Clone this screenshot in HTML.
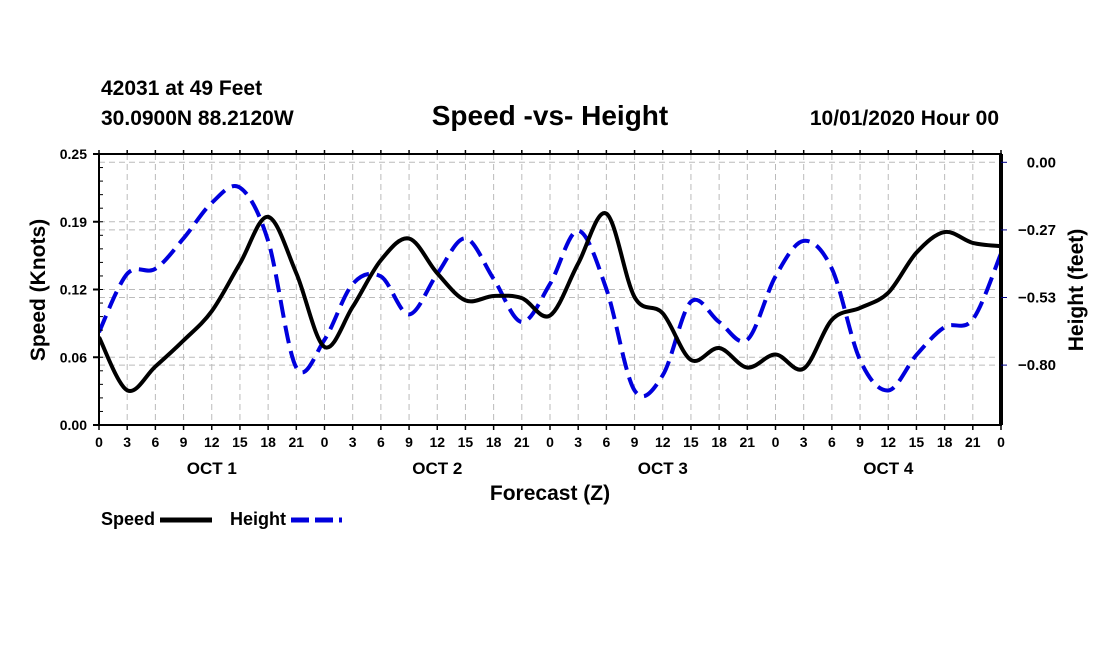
<!DOCTYPE html>
<html><head><meta charset="utf-8">
<style>
html,body{margin:0;padding:0;background:#fff;}
svg{display:block;font-family:"Liberation Sans",Arial,sans-serif;font-weight:bold;}
</style></head>
<body>
<svg id="chart" width="1100" height="650" viewBox="0 0 1100 650" xmlns="http://www.w3.org/2000/svg">
<defs><clipPath id="plotclip"><rect x="99" y="154" width="902" height="271"/></clipPath></defs>
<text x="101" y="95" font-size="21">42031 at 49 Feet</text>
<text x="101" y="125" font-size="21">30.0900N 88.2120W</text>
<text x="550" y="125" font-size="28" text-anchor="middle">Speed -vs- Height</text>
<text x="999" y="125" font-size="21" text-anchor="end">10/01/2020 Hour 00</text>
<g id="grid"></g>
<g id="series" clip-path="url(#plotclip)"></g>
<g id="axes"></g>
<text transform="translate(45,290) rotate(-90)" font-size="21" text-anchor="middle">Speed (Knots)</text>
<text transform="translate(1083,290) rotate(-90)" font-size="21" text-anchor="middle">Height (feet)</text>
<text x="550" y="500" font-size="21" text-anchor="middle">Forecast (Z)</text>
<g>
<text x="101" y="525" font-size="18">Speed</text>
<line x1="160" y1="520" x2="212" y2="520" stroke="#000" stroke-width="5"/>
<text x="230" y="525" font-size="18">Height</text>
<line x1="291" y1="520" x2="342" y2="520" stroke="#0000dd" stroke-width="5" stroke-dasharray="18,6"/>
</g>
</svg>
<script>
const hours = [0,3,6,9,12,15,18,21,24,27,30,33,36,39,42,45,48,51,54,57,60,63,66,69,72,75,78,81,84,87,90,93,96];
const speedValues = [0.081,0.032,0.054,0.078,0.105,0.149,0.192,0.140,0.072,0.109,0.152,0.172,0.140,0.115,0.119,0.117,0.101,0.149,0.195,0.118,0.103,0.060,0.071,0.053,0.065,0.052,0.097,0.108,0.122,0.159,0.178,0.168,0.165];
const heightValues = [-0.67,-0.44,-0.42,-0.30,-0.16,-0.10,-0.31,-0.81,-0.70,-0.48,-0.45,-0.60,-0.44,-0.30,-0.46,-0.63,-0.48,-0.27,-0.50,-0.90,-0.84,-0.55,-0.63,-0.70,-0.45,-0.31,-0.42,-0.78,-0.90,-0.76,-0.65,-0.62,-0.36];
const leftTicks = [0,0.0625,0.125,0.1875,0.25];
const leftTickLabels = ["0.00","0.06","0.12","0.19","0.25"];
const rightTicks = [0,-0.2667,-0.5333,-0.8];
const rightTickLabels = ["0.00","\u22120.27","\u22120.53","\u22120.80"];
const xTickLabels = ["0","3","6","9","12","15","18","21"];
const dayLabels = ["OCT 1","OCT 2","OCT 3","OCT 4"];

const L=99,R=1001,T=154,B=425;
const xs=h=>L+(h/96)*(R-L);
const yL=v=>B-(v/0.25)*(B-T);
const yR=v=>162.3-v*253.5;
const NS="http://www.w3.org/2000/svg";
function mk(tag,attrs,parent){const e=document.createElementNS(NS,tag);for(const k in attrs)e.setAttribute(k,attrs[k]);parent.appendChild(e);return e;}
const grid=document.getElementById('grid'),axes=document.getElementById('axes'),series=document.getElementById('series');
for(let h=3;h<96;h+=3){const g=mk('line',{x1:xs(h),x2:xs(h),y1:T,y2:B,stroke:'#bbb','stroke-width':1,'stroke-dasharray':'6,4'},grid);

}
leftTicks.slice(1,4).forEach(v=>{const g=mk('line',{x1:L,x2:R,y1:yL(v),y2:yL(v),stroke:'#bbb','stroke-width':1,'stroke-dasharray':'6,4'},grid);

});
rightTicks.forEach(v=>{const g=mk('line',{x1:L,x2:R,y1:yR(v),y2:yR(v),stroke:'#bbb','stroke-width':1,'stroke-dasharray':'6,4'},grid);

});
function path(vals,ymap){const p=hours.map((h,i)=>[xs(h),ymap(vals[i])]);let d='M'+p[0][0]+','+p[0][1];
for(let i=0;i<p.length-1;i++){const p0=p[Math.max(i-1,0)],p1=p[i],p2=p[i+1],p3=p[Math.min(i+2,p.length-1)];
const c1=[p1[0]+(p2[0]-p0[0])/6,p1[1]+(p2[1]-p0[1])/6],c2=[p2[0]-(p3[0]-p1[0])/6,p2[1]-(p3[1]-p1[1])/6];
d+=` C${c1[0]},${c1[1]} ${c2[0]},${c2[1]} ${p2[0]},${p2[1]}`;}return d;}
const hp=mk('path',{d:path(heightValues,yR),fill:'none',stroke:'#0000dd','stroke-width':4,'stroke-dasharray':'18,8'},series);


const sp=mk('path',{d:path(speedValues,yL),fill:'none',stroke:'#000','stroke-width':4},series);


mk('rect',{x:L,y:T,width:R-L,height:B-T,fill:'none',stroke:'#000','stroke-width':2},axes);
mk('line',{x1:R,x2:R,y1:T,y2:B,stroke:'#000','stroke-width':4},axes);
leftTicks.forEach((v,i)=>{mk('line',{x1:L-6,x2:L,y1:yL(v),y2:yL(v),stroke:'#000','stroke-width':2},axes);
const t=mk('text',{x:L-12,y:yL(v)+5,'font-size':14,'text-anchor':'end'},axes);t.textContent=leftTickLabels[i];

});
for(let v=0;v<0.25;v+=0.0125){mk('line',{x1:L,x2:L+4,y1:yL(v),y2:yL(v),stroke:'#000','stroke-width':1},axes);}
rightTicks.forEach((v,i)=>{mk('line',{x1:R,x2:R+6,y1:yR(v),y2:yR(v),stroke:'#000088','stroke-width':1},axes);
const t=mk('text',{x:R+55,y:yR(v)+5,'font-size':15,'text-anchor':'end'},axes);t.textContent=rightTickLabels[i];

});
for(let h=0;h<=96;h+=3){mk('line',{x1:xs(h),x2:xs(h),y1:B,y2:B+5,stroke:'#000','stroke-width':1.5},axes);
mk('line',{x1:xs(h),x2:xs(h),y1:T,y2:T-4,stroke:'#000','stroke-width':1.5},axes);
const t=mk('text',{x:xs(h),y:B+22,'font-size':14,'text-anchor':'middle'},axes);t.textContent=xTickLabels[(h/3)%8];

}
dayLabels.forEach((d,i)=>{const t=mk('text',{x:xs(i*24+12),y:474,'font-size':17,'text-anchor':'middle'},axes);t.textContent=d;

});
</script>
</body></html>
